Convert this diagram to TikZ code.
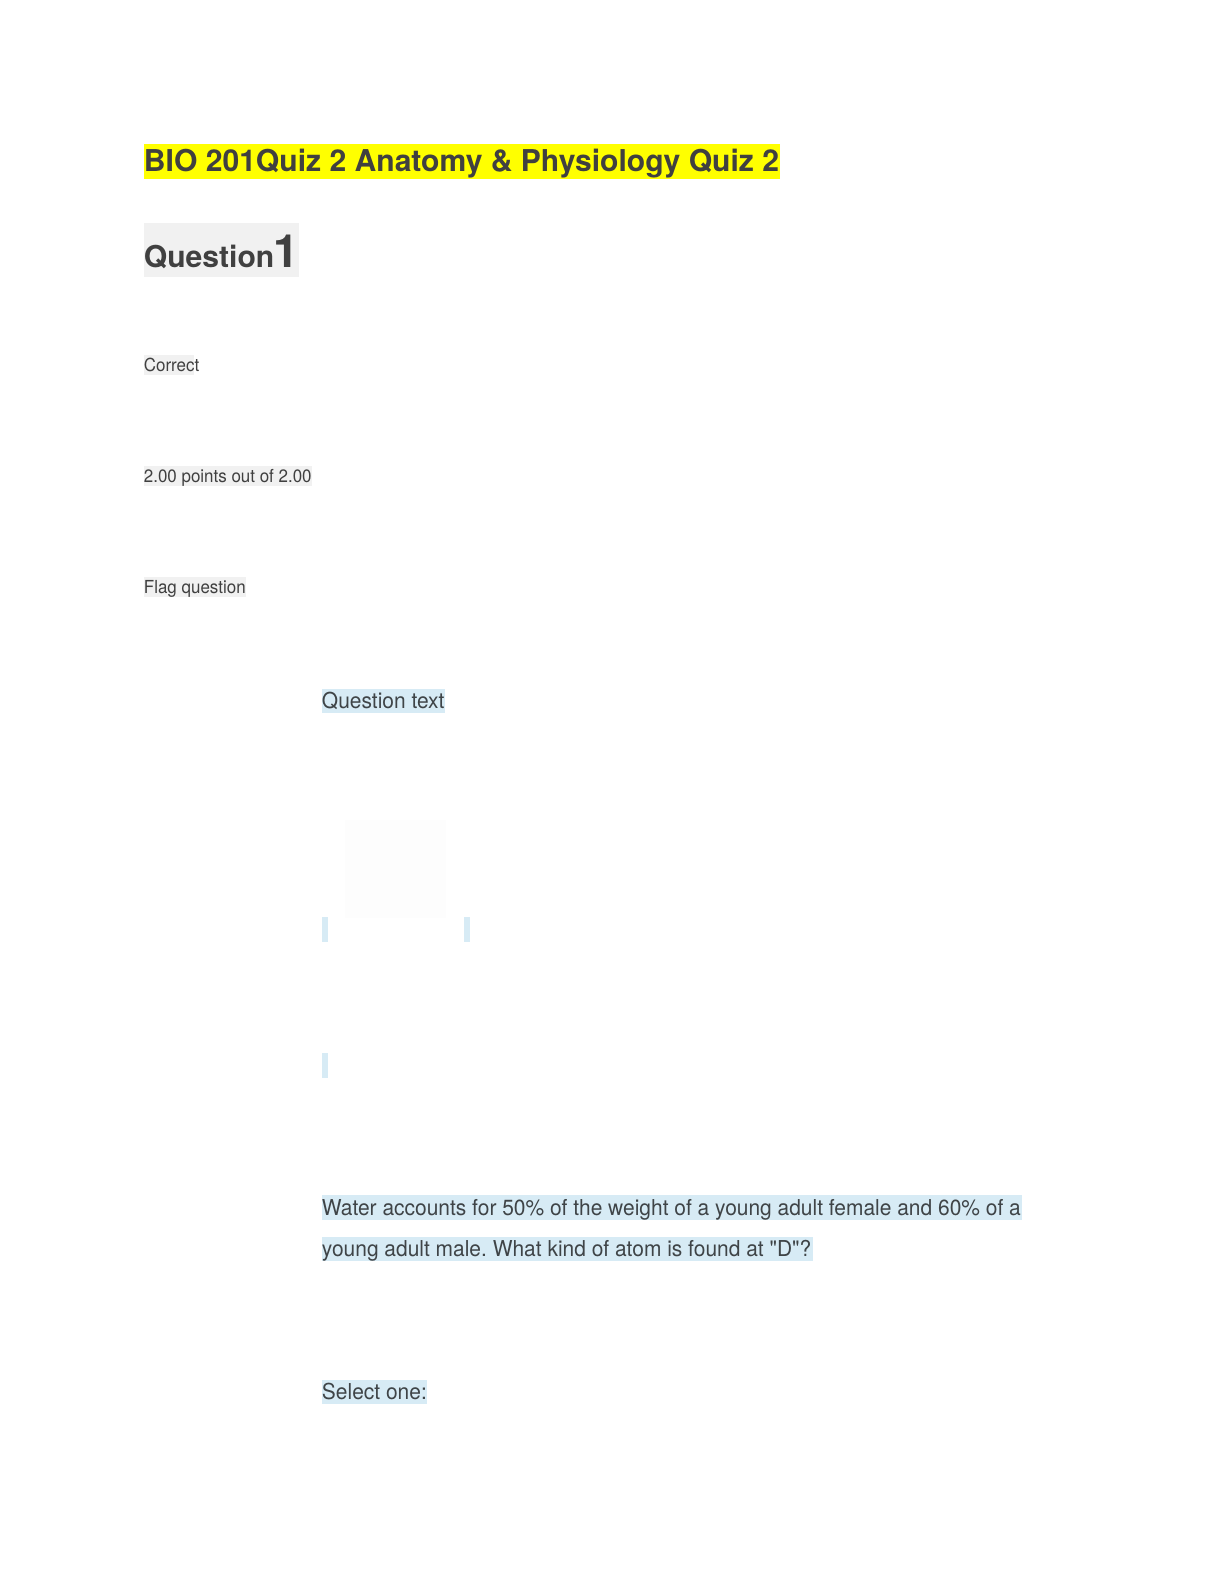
\documentclass[tikz,border=0pt]{standalone}
\usepackage{fontspec}
\newfontfamily\heros{TeX Gyre Heros}
\definecolor{ink}{HTML}{404040}
\definecolor{inkb}{HTML}{3F4447}
\definecolor{hlyellow}{HTML}{FFFF00}
\definecolor{hlgray}{HTML}{F1F1F1}
\definecolor{hlblue}{HTML}{D7EBF5}
\definecolor{faint}{HTML}{FDFDFD}
\tikzset{
  x=0.50495bp,y=-0.50505bp,
  txt/.style={anchor=base west,inner sep=0pt,outer sep=0pt,text=ink,transform shape},
  head/.style={txt,font=\heros\fontsize{15.1}{15}\bfseries\selectfont\frenchspacing},
  small/.style={txt,xscale=0.945,font=\heros\fontsize{9}{9}\selectfont\frenchspacing},
  body/.style={txt,xscale=0.956,text=inkb,font=\heros\fontsize{11}{11}\selectfont\frenchspacing},
}
\begin{document}
\begin{tikzpicture}
\useasboundingbox (0,0) rectangle (1212,1568);
\fill[white] (0,0) rectangle (1212,1568);
\fill[hlyellow] (142.5,143) rectangle (772,177);
\fill[hlgray] (142.5,221) rectangle (296,274);
\fill[hlgray] (142.5,351.5) rectangle (192.4,371);
\fill[hlgray] (142.5,461.5) rectangle (308.6,481);
\fill[hlgray] (142.5,571.5) rectangle (243.5,591);
\fill[hlblue] (318.8,682) rectangle (441,706);
\fill[faint] (341.5,811.8) rectangle (441.5,908.8);
\fill[hlblue] (318.8,908) rectangle (324.7,932.6);
\fill[hlblue] (459,908) rectangle (465.2,932.6);
\fill[hlblue] (318.8,1042.5) rectangle (324.7,1067);
\fill[hlblue] (318.8,1183) rectangle (1012,1208);
\fill[hlblue] (318.8,1224) rectangle (805,1248);
\fill[hlblue] (318.8,1365.6) rectangle (423,1390);
\node[head] (title) at (142.5,170) {BIO 201Quiz 2 Anatomy \& Physiology Quiz 2};
\node[head] (qword) at (142.5,264.6) {Question};
\node[txt,font=\heros\fontsize{23}{23}\bfseries\selectfont] (qnum) at (270.5,264.6) {1};
\node[small] (correct) at (142.5,368) {Correct};
\node[small] (points) at (142.5,477.5) {2.00 points out of 2.00};
\node[small] (flag) at (142.5,587.5) {Flag question};
\node[body] (qtext) at (318.8,701) {Question text};
\node[body] (l1) at (318.8,1203) {Water accounts for 50\% of the weight of a young adult female and 60\% of a};
\node[body] (l2) at (318.8,1243.6) {young adult male. What kind of atom is found at "D"?};
\node[body] (sel) at (318.8,1385.5) {Select one:};
\end{tikzpicture}
\end{document}
